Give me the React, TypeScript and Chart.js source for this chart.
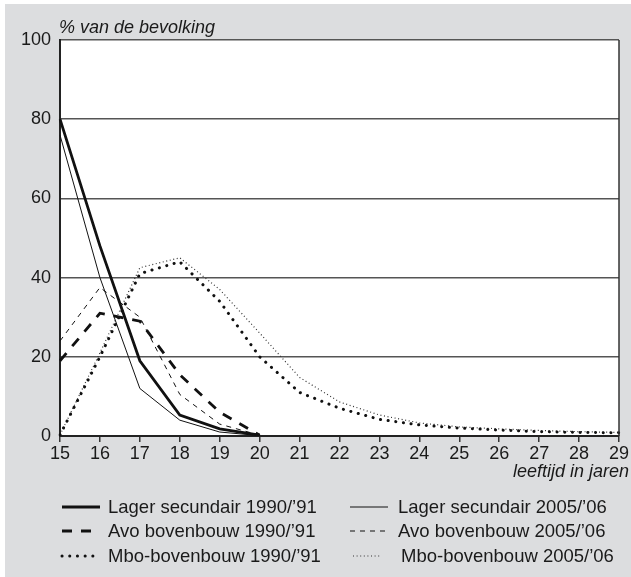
import React, { useEffect, useRef } from "react";
import { Chart, registerables } from "chart.js";

Chart.register(...registerables);

const ages = ["15", "16", "17", "18", "19", "20", "21", "22", "23", "24", "25", "26", "27", "28", "29"];
const yTicks = [0, 20, 40, 60, 80, 100];

const lager1990 = [80, 48, 19, 5.3, 1.8, 0.2];
const lager2005 = [76, 40, 12, 4, 1, 0.1];
const avo1990 = [19, 31, 29, 15.5, 6, 0.2];
const avo2005 = [24, 37.5, 30, 10.5, 3, 0.2];
const mbo1990 = [0.3, 20, 41, 44, 34, 20, 11, 7, 4.2, 2.8, 2, 1.5, 1.1, 0.9, 0.8];
const mbo2005 = [0.3, 21, 42.5, 45, 37, 26, 14.8, 8.6, 5.3, 3.3, 2.3, 1.8, 1.4, 1.1, 0.9];

const seriesNames = [
  "Lager secundair 1990/\u201991",
  "Lager secundair 2005/\u201906",
  "Avo bovenbouw 1990/\u201991",
  "Avo bovenbouw 2005/\u201906",
  "Mbo-bovenbouw 1990/\u201991",
  "Mbo-bovenbouw 2005/\u201906",
];

const yTitle = "% van de bevolking";
const xTitle = "leeftijd in jaren";

const FONT = "'Liberation Sans', Arial, Helvetica, sans-serif";

export default function App() {
  const ref = useRef<HTMLCanvasElement | null>(null);

  useEffect(() => {
    document.body.style.margin = "0";
    const canvas = ref.current;
    if (!canvas) return;

    const bgPlugin = {
      id: "bg",
      beforeDraw(chart: any) {
        const { ctx, chartArea } = chart;
        ctx.save();
        ctx.fillStyle = "#ffffff";
        ctx.fillRect(0, 0, chart.width, chart.height);
        ctx.fillStyle = "#dcdddf";
        ctx.fillRect(5, 4, chart.width - 5, chart.height - 4);
        ctx.fillStyle = "#ffffff";
        ctx.fillRect(chartArea.left, chartArea.top, chartArea.right - chartArea.left, chartArea.bottom - chartArea.top);
        ctx.restore();
      },
      afterDraw(chart: any) {
        const { ctx, chartArea } = chart;
        ctx.save();
        // right border
        ctx.strokeStyle = "#333";
        ctx.lineWidth = 1.5;
        ctx.beginPath();
        ctx.moveTo(chartArea.right, chartArea.top);
        ctx.lineTo(chartArea.right, chartArea.bottom);
        ctx.stroke();
        // titles
        ctx.fillStyle = "#1a1a1a";
        ctx.font = `italic 18px ${FONT}`;
        ctx.textBaseline = "alphabetic";
        ctx.textAlign = "left";
        ctx.fillText(yTitle, 59, 33);
        ctx.textAlign = "right";
        ctx.fillText(xTitle, 629, 477);
        // legend
        const cols = [
          { lx: 62, tx: 108 },
          { lx: 350, tx: 398 },
        ];
        const rows = [507, 531, 556];
        chart.data.datasets.forEach((ds: any, i: number) => {
          const col = cols[i % 2];
          const y = rows[Math.floor(i / 2)];
          ctx.save();
          ctx.strokeStyle = ds.borderColor;
          ctx.lineWidth = ds.borderWidth;
          ctx.lineCap = ds.borderCapStyle || "butt";
          ctx.setLineDash(ds.borderDash || []);
          ctx.beginPath();
          const len = i === 5 ? 28 : 38;
          const sx = i === 5 ? col.lx + 3 : col.lx;
          ctx.moveTo(sx, y);
          ctx.lineTo(sx + len, y);
          ctx.stroke();
          ctx.restore();
          ctx.fillStyle = "#1a1a1a";
          ctx.font = `18.5px ${FONT}`;
          ctx.textAlign = "left";
          ctx.textBaseline = "middle";
          ctx.fillText(ds.label, i === 5 ? col.tx + 3 : col.tx, y + 1);
        });
        ctx.restore();
      },
    };

    const chart = new Chart(canvas, {
      type: "line",
      data: {
        labels: ages,
        datasets: [
          { label: seriesNames[0], data: lager1990, borderColor: "#111", borderWidth: 2.8, pointRadius: 0, tension: 0, fill: false },
          { label: seriesNames[1], data: lager2005, borderColor: "#111", borderWidth: 1, pointRadius: 0, tension: 0, fill: false },
          { label: seriesNames[2], data: avo1990, borderColor: "#111", borderWidth: 2.8, borderDash: [10, 9], pointRadius: 0, tension: 0, fill: false },
          { label: seriesNames[3], data: avo2005, borderColor: "#111", borderWidth: 1, borderDash: [5, 5], pointRadius: 0, tension: 0, fill: false },
          { label: seriesNames[4], data: mbo1990, borderColor: "#111", borderWidth: 3, borderDash: [0.1, 7.6], borderCapStyle: "round", pointRadius: 0, tension: 0, fill: false },
          { label: seriesNames[5], data: mbo2005, borderColor: "#333", borderWidth: 1.2, borderDash: [1, 2.6], pointRadius: 0, tension: 0, fill: false },
        ] as any,
      },
      options: {
        animation: false,
        responsive: false,
        devicePixelRatio: 1,
        layout: { padding: { left: 5, right: 12, top: 40, bottom: 111 } },
        plugins: { legend: { display: false }, tooltip: { enabled: false }, title: { display: false } },
        scales: {
          x: {
            type: "category",
            offset: false,
            grid: { drawOnChartArea: false, drawTicks: true, tickLength: 6, color: "#333", lineWidth: 1.5 },
            border: { display: true, color: "#222", width: 2 },
            ticks: { font: { size: 18, family: FONT }, color: "#1a1a1a", padding: 1, maxRotation: 0, autoSkip: false },
            afterFit: (s: any) => { s.height = 30; },
          },
          y: {
            min: 0,
            max: 100,
            afterBuildTicks: (s: any) => { s.ticks = yTicks.map((v) => ({ value: v })); },
            grid: { color: "#555", lineWidth: 1.5, drawTicks: false },
            border: { display: true, color: "#222", width: 2 },
            ticks: { font: { size: 18, family: FONT }, color: "#1a1a1a", padding: 9 },
            afterFit: (s: any) => { s.width = 55; },
          },
        },
      } as any,
      plugins: [bgPlugin],
    });

    return () => chart.destroy();
  }, []);

  return (
    <div style={{ position: "absolute", left: 0, top: 0, width: 631, height: 577 }}>
      <canvas ref={ref} width={631} height={577} style={{ width: 631, height: 577, display: "block" }} />
    </div>
  );
}
